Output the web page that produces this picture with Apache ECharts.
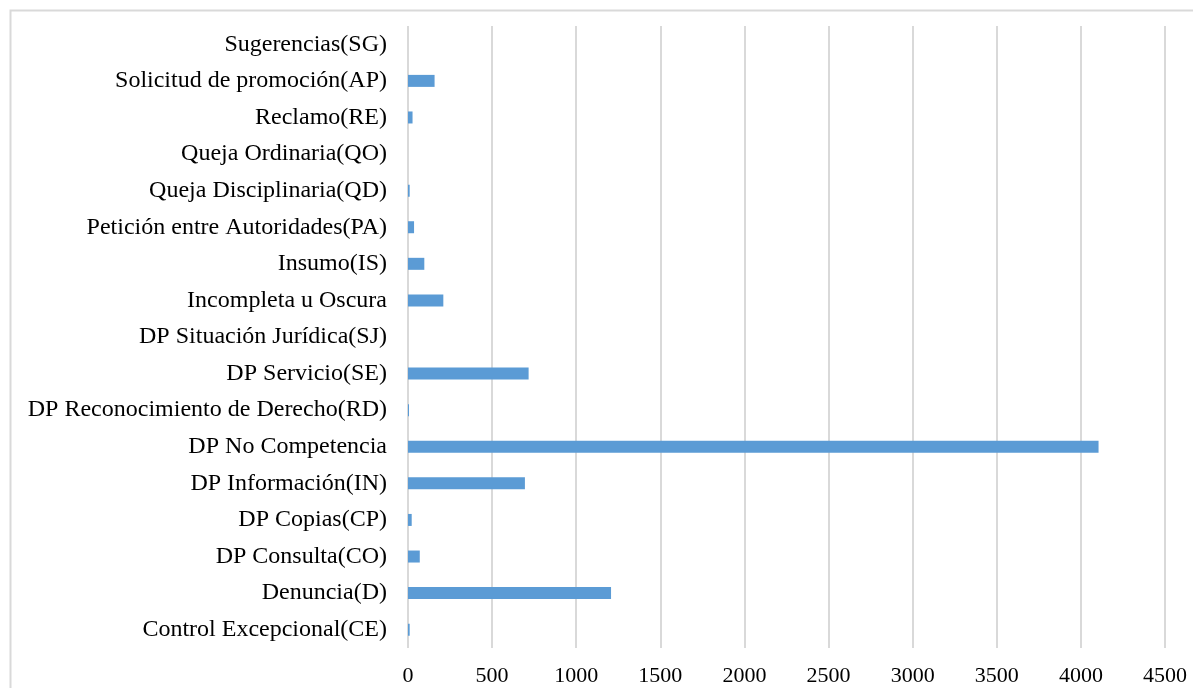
<!DOCTYPE html>
<html>
<head>
<meta charset="utf-8">
<script src="https://cdn.jsdelivr.net/npm/echarts@6/dist/echarts.min.js"></script>
<style>html,body{margin:0;padding:0;background:#fff}#c{width:1193px;height:688px}</style>
</head>
<body>
<div id="c"></div>
<script>
const categories = [
  "Control Excepcional(CE)",
  "Denuncia(D)",
  "DP Consulta(CO)",
  "DP Copias(CP)",
  "DP Información(IN)",
  "DP No Competencia",
  "DP Reconocimiento de Derecho(RD)",
  "DP Servicio(SE)",
  "DP Situación Jurídica(SJ)",
  "Incompleta u Oscura",
  "Insumo(IS)",
  "Petición entre Autoridades(PA)",
  "Queja Disciplinaria(QD)",
  "Queja Ordinaria(QO)",
  "Reclamo(RE)",
  "Solicitud de promoción(AP)",
  "Sugerencias(SG)"
];
const values = [10, 1207, 70, 22, 695, 4105, 6, 717, 0, 210, 97, 36, 10, 0, 27, 158, 0];
const xTicks = { min: 0, max: 4500, interval: 500 };

const chart = echarts.init(document.getElementById('c'));
const font = '"Liberation Serif", "Times New Roman", serif';
chart.setOption({
  animation: false,
  textStyle: { fontFamily: font },
  graphic: [{
    type: 'rect',
    shape: { x: 10.5, y: 10.5, width: 1300, height: 800 },
    style: { fill: 'none', stroke: '#d9d9d9', lineWidth: 2 },
    silent: true
  }],
  grid: { left: 408, right: 28, top: 26, bottom: 40, containLabel: false },
  xAxis: {
    type: 'value',
    min: xTicks.min, max: xTicks.max, interval: xTicks.interval,
    axisLine: { show: false },
    axisTick: { show: false },
    splitLine: { show: true, lineStyle: { color: '#d9d9d9', width: 2 } },
    axisLabel: { color: '#000', fontSize: 22, fontFamily: font, margin: 17,
      formatter: function (v) { return String(v); } }
  },
  yAxis: {
    type: 'category',
    data: categories,
    axisLine: { show: false },
    axisTick: { show: false },
    axisLabel: { color: '#000', fontSize: 24, fontFamily: font, margin: 21 }
  },
  series: [{
    type: 'bar',
    data: values,
    barWidth: 12,
    itemStyle: { color: '#5b9bd5' }
  }]
});
</script>
</body>
</html>
